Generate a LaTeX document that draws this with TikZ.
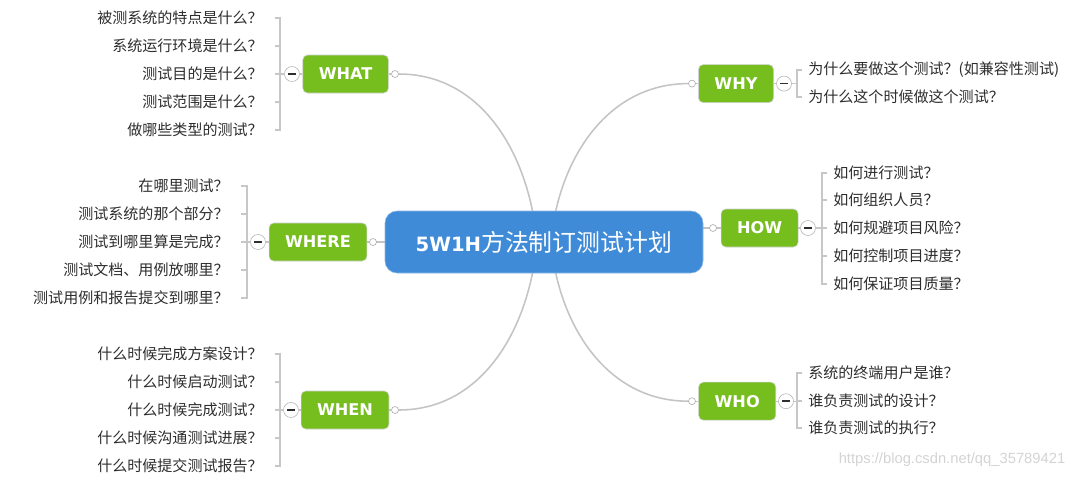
\documentclass[tikz,border=0pt]{standalone}
\usepackage{fontspec}
\usepackage{tikz}
\usepackage{xcolor}
\usetikzlibrary{backgrounds}
\setmainfont{Noto Sans CJK SC}
\newfontfamily\lat{DejaVu Sans}
\newfontfamily\wmfont{Liberation Sans}
\definecolor{rootc}{HTML}{3F8BD8}
\definecolor{leafc}{HTML}{76BE1E}
\definecolor{linec}{HTML}{C4C4C4}
\definecolor{textc}{HTML}{2E2E2E}
\definecolor{markc}{HTML}{D4D4D4}
\tikzset{
  root/.style={draw=rootc!60!white, fill=rootc, rounded corners=0.3cm, minimum width=7.95cm, minimum height=1.55cm, text=white},
  head/.style={draw=black!18, fill=leafc, rounded corners=0.12cm, minimum height=0.95cm, inner xsep=0.4cm, text=white, font=\lat\bfseries\fontsize{11.5}{13}\selectfont},
  dot/.style={circle, draw=black!35, fill=white, inner sep=0pt, minimum size=0.175cm},
  fold/.style={circle, draw=black!30, fill=white, inner sep=0pt, minimum size=0.375cm, path picture={\draw[textc, line width=1.2pt] ([xshift=-2.5pt]path picture bounding box.center) -- ([xshift=2.5pt]path picture bounding box.center);}},
  lq/.style={anchor=east, inner xsep=0.3cm, inner ysep=1pt, text=textc, font=\fontsize{10.7}{12}\selectfont},
  rq/.style={anchor=west, inner xsep=0.15cm, inner ysep=1pt, text=textc, font=\fontsize{10.7}{12}\selectfont},
  curve/.style={draw=linec, line width=1.1pt},
  link/.style={draw=linec, line width=0.8pt},
  brk/.style={draw=black!22, line width=0.8pt},
  wmark/.style={text=markc, font=\wmfont\fontsize{10.5}{12}\selectfont},
}
\begin{document}
\begin{tikzpicture}
\useasboundingbox (0,0) rectangle (27.05,-11.975);
\node[root] (main) at (13.60,-6.05) {{\lat\bfseries\fontsize{14}{16}\selectfont 5W1H}\fontsize{17}{19}\selectfont 方法制订测试计划};

\node[head] (what) at (8.64,-1.85) {WHAT};
\node[head] (where) at (7.95,-6.05) {WHERE};
\node[head] (when) at (8.625,-10.25) {WHEN};
\node[head] (why) at (18.40,-2.09) {WHY};
\node[head] (how) at (18.99,-5.70) {HOW};
\node[head] (who) at (18.43,-10.03) {WHO};

\node[dot] (whatd) at (9.875,-1.85) {};
\node[dot] (whered) at (9.325,-6.05) {};
\node[dot] (whend) at (9.875,-10.25) {};
\node[dot] (whyd) at (17.30,-2.09) {};
\node[dot] (howd) at (17.825,-5.70) {};
\node[dot] (whod) at (17.30,-10.03) {};

\node[fold] (whatm) at (7.30,-1.85) {};
\node[fold] (wherem) at (6.45,-6.05) {};
\node[fold] (whenm) at (7.275,-10.25) {};
\node[fold] (whym) at (19.60,-2.09) {};
\node[fold] (howm) at (20.20,-5.70) {};
\node[fold] (whom) at (19.65,-10.03) {};

\node[lq] (what1) at (6.875,-0.45) {被测系统的特点是什么？};
\node[lq] (what2) at (6.875,-1.15) {系统运行环境是什么？};
\node[lq] (what3) at (6.875,-1.85) {测试目的是什么？};
\node[lq] (what4) at (6.875,-2.55) {测试范围是什么？};
\node[lq] (what5) at (6.875,-3.25) {做哪些类型的测试？};

\node[lq] (where1) at (6.025,-4.65) {在哪里测试？};
\node[lq] (where2) at (6.025,-5.35) {测试系统的那个部分？};
\node[lq] (where3) at (6.025,-6.05) {测试到哪里算是完成？};
\node[lq] (where4) at (6.025,-6.75) {测试文档、用例放哪里？};
\node[lq] (where5) at (6.025,-7.45) {测试用例和报告提交到哪里？};

\node[lq] (when1) at (6.875,-8.85) {什么时候完成方案设计？};
\node[lq] (when2) at (6.875,-9.55) {什么时候启动测试？};
\node[lq] (when3) at (6.875,-10.25) {什么时候完成测试？};
\node[lq] (when4) at (6.875,-10.95) {什么时候沟通测试进展？};
\node[lq] (when5) at (6.875,-11.65) {什么时候提交测试报告？};

\node[rq] (why1) at (20.05,-1.75) {为什么要做这个测试？(如兼容性测试)};
\node[rq] (why2) at (20.05,-2.425) {为什么这个时候做这个测试？};

\node[rq] (how1) at (20.675,-4.325) {如何进行测试？};
\node[rq] (how2) at (20.675,-5.00) {如何组织人员？};
\node[rq] (how3) at (20.675,-5.70) {如何规避项目风险？};
\node[rq] (how4) at (20.675,-6.40) {如何控制项目进度？};
\node[rq] (how5) at (20.675,-7.10) {如何保证项目质量？};

\node[rq] (who1) at (20.05,-9.325) {系统的终端用户是谁？};
\node[rq] (who2) at (20.05,-10.025) {谁负责测试的设计？};
\node[rq] (who3) at (20.05,-10.70) {谁负责测试的执行？};

\node[wmark] (mark) at (23.8,-11.5) {https://blog.csdn.net/qq\_35789421};

\begin{scope}[on background layer]
\fill[white] (0,0) rectangle (27.05,-11.975);
\draw[curve] (whatd) to[out=0,in=95] ([xshift=-0.175cm]main.center);
\draw[curve] (whend) to[out=0,in=265] ([xshift=-0.175cm]main.center);
\draw[curve] (whyd) to[out=180,in=85] ([xshift=0.175cm]main.center);
\draw[curve] (whod) to[out=180,in=275] ([xshift=0.175cm]main.center);
\draw[link] (where.east) -- (main.west);
\draw[link] (how.west) -- (main.east |- how.west);
\draw[link] (what) -- (whatd);
\draw[link] (when) -- (whend);
\draw[link] (why) -- (whyd);
\draw[link] (who) -- (whod);
\draw[link] (whatm) -- (what);
\draw[link] (wherem) -- (where);
\draw[link] (whenm) -- (when);
\draw[link] (whym) -- (why);
\draw[link] (howm) -- (how);
\draw[link] (whom) -- (who);
\draw[brk] (what1.east) -- ++(0.125,0) |- (whatm.west);
\draw[brk] (what2.east) -- ++(0.125,0) |- (whatm.west);
\draw[brk] (what3.east) -- ++(0.125,0) |- (whatm.west);
\draw[brk] (what4.east) -- ++(0.125,0) |- (whatm.west);
\draw[brk] (what5.east) -- ++(0.125,0) |- (whatm.west);
\draw[brk] (where1.east) -- ++(0.15,0) |- (wherem.west);
\draw[brk] (where2.east) -- ++(0.15,0) |- (wherem.west);
\draw[brk] (where3.east) -- ++(0.15,0) |- (wherem.west);
\draw[brk] (where4.east) -- ++(0.15,0) |- (wherem.west);
\draw[brk] (where5.east) -- ++(0.15,0) |- (wherem.west);
\draw[brk] (when1.east) -- ++(0.125,0) |- (whenm.west);
\draw[brk] (when2.east) -- ++(0.125,0) |- (whenm.west);
\draw[brk] (when3.east) -- ++(0.125,0) |- (whenm.west);
\draw[brk] (when4.east) -- ++(0.125,0) |- (whenm.west);
\draw[brk] (when5.east) -- ++(0.125,0) |- (whenm.west);
\draw[brk] (why1.west) -- ++(-0.125,0) |- (whym.east);
\draw[brk] (why2.west) -- ++(-0.125,0) |- (whym.east);
\draw[brk] (how1.west) -- ++(-0.125,0) |- (howm.east);
\draw[brk] (how2.west) -- ++(-0.125,0) |- (howm.east);
\draw[brk] (how3.west) -- ++(-0.125,0) |- (howm.east);
\draw[brk] (how4.west) -- ++(-0.125,0) |- (howm.east);
\draw[brk] (how5.west) -- ++(-0.125,0) |- (howm.east);
\draw[brk] (who1.west) -- ++(-0.125,0) |- (whom.east);
\draw[brk] (who2.west) -- ++(-0.125,0) |- (whom.east);
\draw[brk] (who3.west) -- ++(-0.125,0) |- (whom.east);
\end{scope}
\end{tikzpicture}
\end{document}
